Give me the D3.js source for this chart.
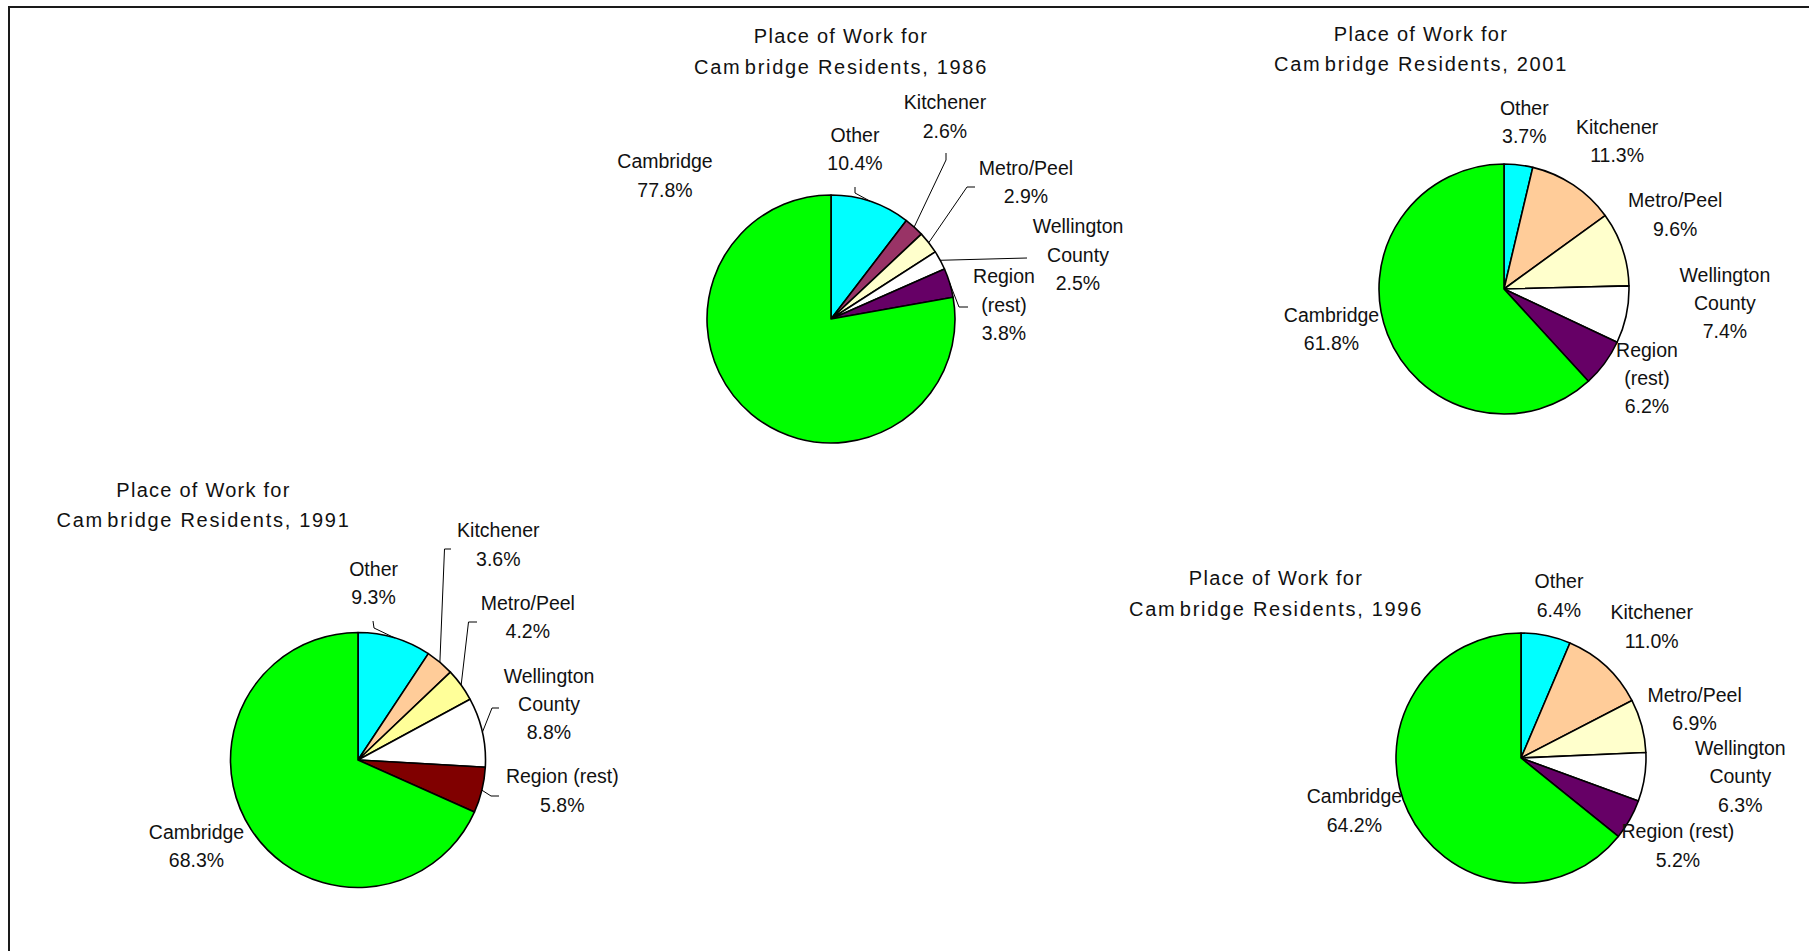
<!DOCTYPE html>
<html>
<head>
<meta charset="utf-8">
<script src="https://cdn.jsdelivr.net/npm/d3@7/dist/d3.min.js"></script>
<style>
  html, body { margin: 0; padding: 0; background: #fff; }
  svg { display: block; }
  text { font-family: "Liberation Sans", Arial, sans-serif; fill: #111; }
</style>
</head>
<body>
<svg id="chart" width="1809" height="951"></svg>
<script>
// Place of work for Cambridge residents, census years 1986–2001 (percent of employed residents)
const categories = ["Other", "Kitchener", "Metro/Peel", "Wellington County", "Region (rest)", "Cambridge"];
const years = [1986, 1991, 1996, 2001];
const share1986 = [10.4, 2.6, 2.9, 2.5, 3.8, 77.8];
const share1991 = [9.3, 3.6, 4.2, 8.8, 5.8, 68.3];
const share1996 = [6.4, 11.0, 6.9, 6.3, 5.2, 64.2];
const share2001 = [3.7, 11.3, 9.6, 7.4, 6.2, 61.8];

// Slice fills, one list per year (same category order as above)
const colors1986 = ["#00ffff", "#993366", "#ffffcc", "#ffffff", "#660066", "#00ff00"];
const colors1991 = ["#00ffff", "#ffcc99", "#ffff99", "#ffffff", "#800000", "#00ff00"];
const colors1996 = ["#00ffff", "#ffcc99", "#ffffcc", "#ffffff", "#660066", "#00ff00"];
const colors2001 = ["#00ffff", "#ffcc99", "#ffffcc", "#ffffff", "#660066", "#00ff00"];

// How each category name is broken over lines, per chart
const nameLines1986 = [["Other"], ["Kitchener"], ["Metro/Peel"], ["Wellington", "County"], ["Region", "(rest)"], ["Cambridge"]];
const nameLines1991 = [["Other"], ["Kitchener"], ["Metro/Peel"], ["Wellington", "County"], ["Region (rest)"], ["Cambridge"]];
const nameLines1996 = [["Other"], ["Kitchener"], ["Metro/Peel"], ["Wellington", "County"], ["Region (rest)"], ["Cambridge"]];
const nameLines2001 = [["Other"], ["Kitchener"], ["Metro/Peel"], ["Wellington", "County"], ["Region", "(rest)"], ["Cambridge"]];

const shares = { 1986: share1986, 1991: share1991, 1996: share1996, 2001: share2001 };
const palettes = { 1986: colors1986, 1991: colors1991, 1996: colors1996, 2001: colors2001 };
const nameLines = { 1986: nameLines1986, 1991: nameLines1991, 1996: nameLines1996, 2001: nameLines2001 };

// Placement of each pie, its title and its labels (first-line baselines, centred)
const layout = {
  1986: {
    cx: 831, cy: 319, r: 124,
    title: [841, 43.3],
    labels: [[855, 141.7], [945, 109.3], [1026, 175], [1078, 233.3], [1004, 283.3], [665, 168.3]],
    leaders: [
      { i: 0, pts: [[855, 187], [855, 193]] },
      { i: 1, pts: [[946, 153], [946, 160]] },
      { i: 2, pts: [[975, 187], [967, 187]] },
      { i: 3, pts: [[1027, 258]] },
      { i: 4, pts: [[968, 307], [959, 307]] }
    ]
  },
  1991: {
    cx: 358, cy: 760, r: 127.5,
    title: [203.5, 496.7],
    labels: [[373.6, 575.7], [498.3, 537.3], [527.8, 610], [549, 682.7], [562.3, 783.3], [196.5, 839]],
    leaders: [
      { i: 0, pts: [[373, 621], [374, 628]] },
      { i: 1, pts: [[451, 549], [444.5, 549]] },
      { i: 2, pts: [[477, 622], [468.5, 622]] },
      { i: 3, pts: [[499, 708], [492, 708]] },
      { i: 4, pts: [[499, 796], [491, 796]] }
    ]
  },
  1996: {
    cx: 1521, cy: 758, r: 125,
    title: [1276, 585],
    labels: [[1559, 588.3], [1651.7, 619.3], [1694.6, 701.7], [1740.3, 755], [1677.9, 838.3], [1354.4, 803.3]],
    leaders: []
  },
  2001: {
    cx: 1504, cy: 289, r: 125,
    title: [1421, 40.7],
    labels: [[1524.3, 115], [1617.1, 134], [1675.2, 207.3], [1724.9, 281.7], [1647, 356.7], [1331.5, 321.7]],
    leaders: []
  }
};

const titleLine1 = "Place of Work for";
const titleLine2a = "Cam";
const titleLine2b = year => `bridge Residents, ${year}`;
const lineHeight = 28.3;
const fmt = d3.format(".1f");

const svg = d3.select("#chart");

// Frame around the sheet (its right and bottom sides run off the page)
svg.append("path")
  .attr("d", "M9,951 V7 H1809")
  .attr("fill", "none")
  .attr("stroke", "#1a1a1a")
  .attr("stroke-width", 2);

const pie = d3.pie().sort(null).value(d => d);

years.forEach(year => {
  const L = layout[year];
  const values = shares[year];
  const fills = palettes[year];
  const arcs = pie(values);
  const arc = d3.arc().innerRadius(0).outerRadius(L.r);

  const g = svg.append("g").attr("class", `pie-${year}`);

  // Title, two centred lines with the sheet's loose letter spacing
  g.append("text")
    .attr("text-anchor", "middle")
    .attr("font-size", 20)
    .attr("letter-spacing", 1.25)
    .attr("x", L.title[0]).attr("y", L.title[1])
    .text(titleLine1);
  const t2 = g.append("text")
    .attr("text-anchor", "middle")
    .attr("font-size", 20)
    .attr("letter-spacing", 1.7)
    .attr("x", L.title[0]).attr("y", L.title[1] + 30.5);
  t2.append("tspan").text(titleLine2a);
  t2.append("tspan").attr("dx", 3.5).text(titleLine2b(year));

  // Slices
  g.append("g")
    .attr("transform", `translate(${L.cx},${L.cy})`)
    .selectAll("path")
    .data(arcs)
    .join("path")
    .attr("d", arc)
    .attr("fill", (d, i) => fills[i])
    .attr("stroke", "#000")
    .attr("stroke-width", 1.6)
    .attr("stroke-linejoin", "round");

  // Leader lines from label to the middle of the slice's rim
  const rimPoint = d => {
    const a = (d.startAngle + d.endAngle) / 2;
    return [L.cx + L.r * Math.sin(a), L.cy - L.r * Math.cos(a)];
  };
  g.append("g")
    .selectAll("path")
    .data(L.leaders)
    .join("path")
    .attr("d", ld => d3.line()([...ld.pts, rimPoint(arcs[ld.i])]))
    .attr("fill", "none")
    .attr("stroke", "#000")
    .attr("stroke-width", 1);

  // Category labels with their share
  const labels = g.append("g")
    .selectAll("text")
    .data(arcs)
    .join("text")
    .attr("text-anchor", "middle")
    .attr("font-size", 19.5);
  labels.each(function (d, i) {
    const lines = [...nameLines[year][i], fmt(d.data) + "%"];
    const [x, y] = L.labels[i];
    d3.select(this).selectAll("tspan")
      .data(lines)
      .join("tspan")
      .attr("x", x)
      .attr("y", (t, k) => y + k * lineHeight)
      .text(t => t);
  });
});
</script>
</body>
</html>
